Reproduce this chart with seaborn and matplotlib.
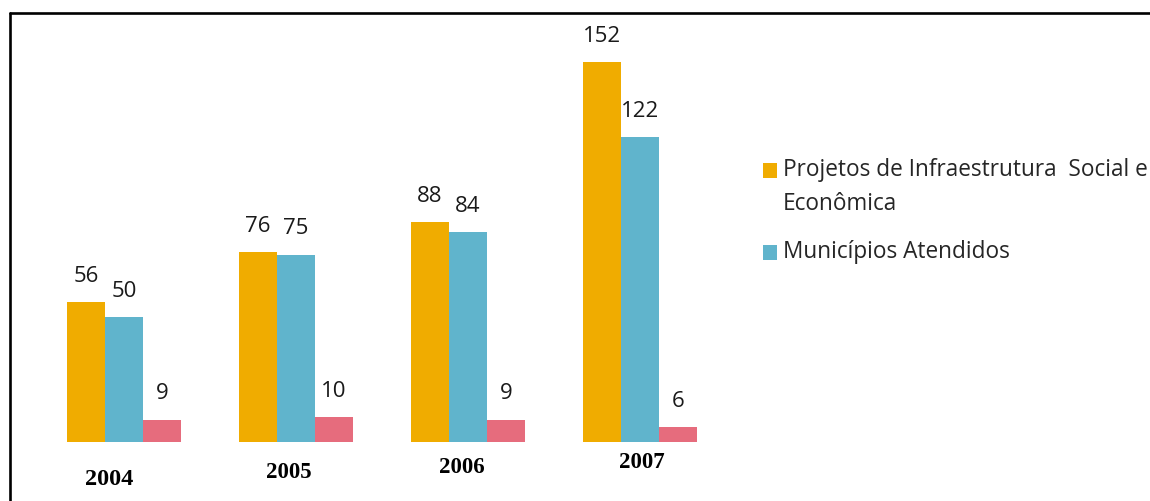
import matplotlib
matplotlib.use("Agg")
import matplotlib.pyplot as plt
from matplotlib.lines import Line2D
from matplotlib.patches import Rectangle
import pandas as pd
import seaborn as sns

# Data
years = ["2004", "2005", "2006", "2007"]
series_names = [
    "Projetos de Infraestrutura  Social e Econômica",
    "Municípios Atendidos",
    "Outros",
]
projetos = [56, 76, 88, 152]
municipios = [50, 75, 84, 122]
outros = [9, 10, 9, 6]
colors = ["#F0AC00", "#60B4CC", "#E66C7D"]

df = pd.DataFrame({
    "ano": years * 3,
    "serie": [series_names[0]] * 4 + [series_names[1]] * 4 + [series_names[2]] * 4,
    "valor": projetos + municipios + outros,
})

sns.set_theme(style="white")
plt.rcParams["font.family"] = ["Open Sans", "DejaVu Sans"]

W, H, DPI = 1150, 501, 100
fig = plt.figure(figsize=(W / DPI, H / DPI), dpi=DPI)
fig.patch.set_facecolor("white")
ax = fig.add_axes([0, 0, 1, 1])

sns.barplot(data=df, x="ano", y="valor", hue="serie", order=years,
            hue_order=series_names, palette=colors, saturation=1,
            width=0.663, linewidth=0, legend=False, ax=ax)

# Pixel-aligned scales: group spacing 172 px, 2.5 px per unit
x0_px, step_px = 124, 172
base_px, unit_px = H - 442, 2.5
ax.set_xlim(-x0_px / step_px, (W - x0_px) / step_px)
ax.set_ylim(-base_px / unit_px, (H - base_px) / unit_px)
ax.axis("off")

# Value labels above each bar
for cont in ax.containers:
    ax.bar_label(cont, fmt="%d", padding=11, fontsize=16, color="#1a1a1a",
                 family=["Open Sans", "DejaVu Sans"])

# Year labels below each group (bold serif)
year_offsets = [(-14.5, -37.5, 17.5), (-7.5, -30, 16.5),
                (-6.5, -25.5, 16.5), (1.5, -20.5, 16.5)]
for i, (yr, (dx, dy, fs)) in enumerate(zip(years, year_offsets)):
    ax.annotate(yr, xy=(i, 0), xytext=(dx, dy), textcoords="offset pixels",
                ha="center", va="center", fontsize=fs, fontweight="bold",
                family="Liberation Serif", color="black")

# Legend (first two series)
legend_items = [
    (colors[0], "Projetos de Infraestrutura  Social e\nEconômica", 163),
    (colors[1], "Municípios Atendidos", 245),
]
for col, label, top in legend_items:
    fig.patches.append(Rectangle((763 / W, 1 - (top + 15) / H), 14 / W, 15 / H,
                                 transform=fig.transFigure, facecolor=col,
                                 edgecolor="none"))
    fig.text(783 / W, 1 - (top - 5) / H, label, ha="left", va="top",
             fontsize=16.3, color="#262626", linespacing=1.57)

# Frame lines (top and left)
fig.lines.append(Line2D([9.5 / W, 1.0], [1 - 12.5 / H, 1 - 12.5 / H],
                        transform=fig.transFigure, color="black", lw=1.9))
fig.lines.append(Line2D([9.5 / W, 9.5 / W], [0, 1 - 12.5 / H],
                        transform=fig.transFigure, color="black", lw=1.9))

fig.savefig("out.png", dpi=DPI, facecolor="white")
